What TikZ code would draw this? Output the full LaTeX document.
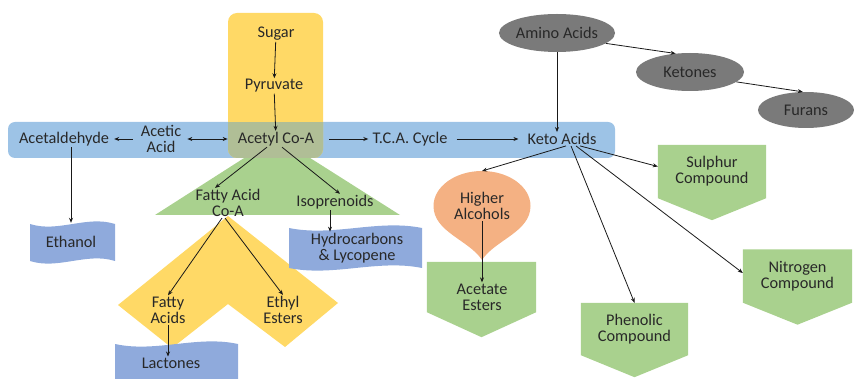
\documentclass[tikz,border=0pt]{standalone}
\usepackage{fontspec}
\setmainfont{Carlito}
\usetikzlibrary{arrows.meta,shapes.geometric,backgrounds,calc}

\definecolor{bandblue}{RGB}{157,195,230}
\definecolor{sunyellow}{RGB}{255,217,102}
\definecolor{overlapgray}{RGB}{176,190,150}
\definecolor{leafgreen}{RGB}{169,209,142}
\definecolor{peach}{RGB}{244,177,131}
\definecolor{tapeblue}{RGB}{143,170,220}
\definecolor{stonegray}{RGB}{122,122,122}
\definecolor{inkgray}{RGB}{40,40,40}

\tikzset{
  lbl/.style={font=\fontsize{16.3}{16.3}\selectfont, text=inkgray, align=center, inner sep=1pt},
  blob/.style={lbl, ellipse, fill=stonegray, inner sep=0pt},
  pent/.style={lbl, inner sep=0pt},
  flow/.style={-{Stealth[length=5pt,width=4pt]}, line width=0.8pt, draw=black!90},
  flowboth/.style={{Stealth[length=5pt,width=4pt]}-{Stealth[length=5pt,width=4pt]}, line width=0.8pt, draw=black!90}
}

% punched tape box: x0 y0 x1 y1
\newcommand{\tapebox}[4]{%
  \fill[tapeblue] (#1,#2) .. controls ({#1+(#3-#1)/3},{#2+9}) and ({#1+2*(#3-#1)/3},{#2-9}) .. (#3,#2)
    -- (#3,#4) .. controls ({#3-(#3-#1)/3},{#4-9}) and ({#3-2*(#3-#1)/3},{#4+9}) .. (#1,#4) -- cycle;}
% pentagon pointing down, drawn round a node
\newcommand{\pentfill}[2]{%
  \fill[leafgreen] (#1.north west) -- (#1.north east) -- (#1.south east)
    -- ([yshift=-#2]#1.south) -- (#1.south west) -- cycle;}

\begin{document}
\begin{tikzpicture}[x=1pt,y=-1pt]
  \useasboundingbox (0,0) rectangle (854,379);

  % main row
  \node[lbl] (sugar) at (276,34) {Sugar};
  \node[lbl] (pyruvate) at (274,86) {Pyruvate};
  \node[lbl] (acetyl) at (276,139) {Acetyl Co-A};
  \node[lbl] (acetic) at (161,139) {Acetic\\Acid};
  \node[lbl] (acetald) at (64,139) {Acetaldehyde};
  \node[lbl] (tca) at (410,139) {T.C.A. Cycle};
  \node[lbl] (keto) at (562,139) {Keto Acids};

  % amino branch
  \node[blob, minimum width=110pt, minimum height=38pt] (amino) at (557,33) {Amino Acids};
  \node[blob, minimum width=108pt, minimum height=38pt] (ketones) at (690,72) {Ketones};
  \node[blob, minimum width=96pt, minimum height=36pt] (furans) at (806,110) {Furans};

  % lower left
  \node[lbl, minimum width=85pt, minimum height=38pt, inner sep=0pt] (ethanol) at (71,242) {Ethanol};
  \node[lbl] (fattycoa) at (228,203) {Fatty Acid\\Co-A};
  \node[lbl] (isopren) at (335,202) {Isoprenoids};
  \node[lbl] (hydro) at (357,248) {Hydrocarbons\\\& Lycopene};
  \node[lbl] (fattyacids) at (168,310) {Fatty\\Acids};
  \node[lbl] (ethyl) at (283,310) {Ethyl\\Esters};
  \node[lbl] (lactones) at (171,363) {Lactones};

  % lower right
  \coordinate (droptop) at (482,171);
  \node[lbl] (higher) at (482,206) {Higher\\Alcohols};
  \node[pent, minimum width=109pt, minimum height=50pt] (acetatebox) at (481.5,287) {};
  \node[lbl] (acetate) at (482,297) {Acetate\\Esters};
  \node[pent, minimum width=108pt, minimum height=53pt] (sulphur) at (712,171.5) {Sulphur\\Compound};
  \node[pent, minimum width=107pt, minimum height=52pt] (phenolic) at (634.5,329) {Phenolic\\Compound};
  \node[pent, minimum width=109pt, minimum height=53pt] (nitrogen) at (797.5,276) {Nitrogen\\Compound};

  \begin{scope}[on background layer]
    \fill[sunyellow] (228,216) -- (338,303) -- (285,347) -- (228,304) -- (172,348) -- (118,305) -- cycle;
    \fill[leafgreen] (277,137) -- (400,215) -- (155,215) -- cycle;
    \fill[bandblue, rounded corners=7] (8,122) rectangle (615,158);
    \fill[sunyellow, rounded corners=9] (228,13) rectangle (323,158);
    \begin{scope}
      \clip[rounded corners=9] (228,13) rectangle (323,158);
      \fill[overlapgray] (8,122) rectangle (615,158);
    \end{scope}
    \tapebox{30}{224}{115}{261}
    \tapebox{289}{228}{422}{268}
    \tapebox{115}{344}{238}{386}
    \fill[peach] (433.5,206) .. controls (433.5,186.7) and (455.2,171) .. (droptop)
      .. controls (508.8,171) and (530.5,186.7) .. (530.5,206)
      .. controls (530.5,232) and (495,240) .. (482,260)
      .. controls (469,240) and (433.5,232) .. (433.5,206) -- cycle;
    \pentfill{acetatebox}{25pt}
    \pentfill{sulphur}{22pt}
    \pentfill{phenolic}{22pt}
    \pentfill{nitrogen}{22pt}
  \end{scope}

  % connectors
  \draw[flow] (sugar) -- (pyruvate);
  \draw[flow] (pyruvate) -- (acetyl);
  \draw[flow, shorten <=14pt, shorten >=3pt] (acetyl) -- (tca);
  \draw[flow, shorten <=8pt, shorten >=8pt] (tca) -- (keto);
  \draw[flowboth, shorten <=5pt, shorten >=9pt] (acetic.east) -- (acetyl.west);
  \draw[flow, shorten <=7pt, shorten >=4pt] (acetic.west) -- (acetald.east);
  \draw[flow] (acetald.south -| ethanol) -- (ethanol.north);
  \draw[flow] ([xshift=-9pt]acetyl.south) -- ([xshift=-13pt]fattycoa.north);
  \draw[flow] ([xshift=6pt]acetyl.south) -- ([xshift=5pt]isopren.north);
  \draw[flow] ([xshift=-5pt]isopren.south) -- ([xshift=-5pt]isopren.south |- hydro.north);
  \draw[flow] ([xshift=-6pt]fattycoa.south) -- (fattyacids.north);
  \draw[flow] ([xshift=-3pt]fattycoa.south) -- (ethyl.north);
  \draw[flow] (fattyacids.south) -- (fattyacids.south |- lactones.north);
  \draw[flow] (amino.south) -- (amino.south |- keto.north);
  \draw[flow] (amino.-12) -- (ketones.128);
  \draw[flow] (ketones.-12) -- (furans.100);
  \draw[flow] ([xshift=4pt]keto.south) -- (droptop);
  \draw[flow] ([xshift=18pt]keto.south) -- ([yshift=5pt]sulphur.west);
  \draw[flow] ([xshift=9pt]keto.south) -- (phenolic.north);
  \draw[flow] ([xshift=14pt]keto.south) -- ([yshift=3pt]nitrogen.west);
  \draw[flow] (higher.south) -- (acetate.north);
\end{tikzpicture}
\end{document}
